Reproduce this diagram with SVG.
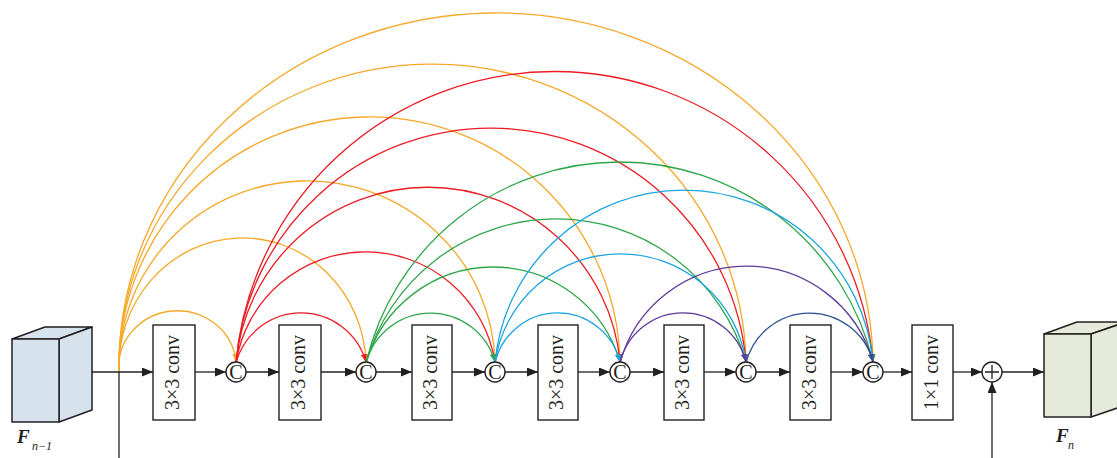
<svg xmlns="http://www.w3.org/2000/svg" width="1117" height="458" viewBox="0 0 1117 458">
  <style>
    .ln { fill: none; stroke: #231f20; stroke-width: 1.3; }
    .box { fill: #ffffff; stroke: #231f20; stroke-width: 1.4; }
    .cat { fill: #ffffff; stroke: #231f20; stroke-width: 1.4; }
    .lbl { font-family: "Liberation Serif", "Times New Roman", serif; font-size: 20px; fill: #231f20; }
    .sym { font-family: "Liberation Serif", "Times New Roman", serif; font-size: 20px; fill: #231f20; }
    .cube { stroke: #231f20; stroke-width: 1.5; stroke-linejoin: round; }
    .fv { font-family: "Liberation Serif", "Times New Roman", serif; font-weight: bold; font-style: italic; font-size: 19px; fill: #231f20; }
    .sub { font-family: "Liberation Serif", "Times New Roman", serif; font-style: italic; font-size: 12px; fill: #231f20; }
    .arc { fill: none; stroke-width: 1.3; }
    .o { stroke: #f5a829; }
    .r { stroke: #ec1c24; }
    .g { stroke: #2fa64b; }
    .b { stroke: #1ca5e0; }
    .p { stroke: #5d3b98; }
    .d { stroke: #2f5190; }
  </style>
  <defs>
    <marker id="ah" markerUnits="userSpaceOnUse" markerWidth="11" markerHeight="9" refX="11" refY="4.5" orient="auto">
      <path d="M0,0 L11,4.5 L0,9 Z" fill="#231f20"/>
    </marker>
    <marker id="ah-o" markerUnits="userSpaceOnUse" markerWidth="8" markerHeight="6" refX="8" refY="3" orient="auto">
      <path d="M0,0 L8,3 L0,6 Z" fill="#f5a829"/>
    </marker>
    <marker id="ah-r" markerUnits="userSpaceOnUse" markerWidth="8" markerHeight="6" refX="8" refY="3" orient="auto">
      <path d="M0,0 L8,3 L0,6 Z" fill="#ec1c24"/>
    </marker>
    <marker id="ah-g" markerUnits="userSpaceOnUse" markerWidth="8" markerHeight="6" refX="8" refY="3" orient="auto">
      <path d="M0,0 L8,3 L0,6 Z" fill="#2fa64b"/>
    </marker>
    <marker id="ah-b" markerUnits="userSpaceOnUse" markerWidth="8" markerHeight="6" refX="8" refY="3" orient="auto">
      <path d="M0,0 L8,3 L0,6 Z" fill="#1ca5e0"/>
    </marker>
    <marker id="ah-p" markerUnits="userSpaceOnUse" markerWidth="8" markerHeight="6" refX="8" refY="3" orient="auto">
      <path d="M0,0 L8,3 L0,6 Z" fill="#5d3b98"/>
    </marker>
    <marker id="ah-d" markerUnits="userSpaceOnUse" markerWidth="8" markerHeight="6" refX="8" refY="3" orient="auto">
      <path d="M0,0 L8,3 L0,6 Z" fill="#2f5190"/>
    </marker>
  </defs>

  <rect width="1117" height="458" fill="#ffffff"/>

  <!-- dense skip connections between concatenation nodes -->
  <g id="connectors">
    <g id="skip-arcs">
      <g marker-end="url(#ah-o)">
        <path class="arc o" d="M119,372 A58.5,56 0 0 1 236,362"/>
        <path class="arc o" d="M119,372 A123.5,129 0 0 1 366,362"/>
        <path class="arc o" d="M119,372 A188,186 0 0 1 495,362"/>
        <path class="arc o" d="M119,372 A250.5,250 0 0 1 620,362"/>
        <path class="arc o" d="M119,372 A313.5,303 0 0 1 746,362"/>
        <path class="arc o" d="M119,372 A377,354 0 0 1 873,362"/>
      </g>
      <g marker-end="url(#ah-r)">
        <path class="arc r" d="M236,363 A67.4,67.4 0 0 1 366,362"/>
        <path class="arc r" d="M236,363 A131.1,131.1 0 0 1 495,362"/>
        <path class="arc r" d="M236,363 A192.8,192.8 0 0 1 620,362"/>
        <path class="arc r" d="M236,363 A255.9,255.9 0 0 1 746,362"/>
        <path class="arc r" d="M236,363 A319.8,319.8 0 0 1 873,362"/>
      </g>
      <g marker-end="url(#ah-g)">
        <path class="arc g" d="M366,363 A66.8,66.8 0 0 1 495,362"/>
        <path class="arc g" d="M366,363 A132.2,132.2 0 0 1 620,362"/>
        <path class="arc g" d="M366,363 A197.5,197.5 0 0 1 746,362"/>
        <path class="arc g" d="M366,363 A260.5,260.5 0 0 1 873,362"/>
      </g>
      <g marker-end="url(#ah-b)">
        <path class="arc b" d="M495,363 A64.2,64.2 0 0 1 620,362"/>
        <path class="arc b" d="M495,363 A126.8,126.8 0 0 1 746,362"/>
        <path class="arc b" d="M495,363 A189.8,189.8 0 0 1 873,362"/>
      </g>
      <g marker-end="url(#ah-p)">
        <path class="arc p" d="M620,363 A64.8,64.8 0 0 1 746,362"/>
        <path class="arc p" d="M620,363 A131.2,131.2 0 0 1 873,362"/>
      </g>
      <path class="arc d" marker-end="url(#ah-d)" d="M746,363 A65.5,65.5 0 0 1 873,362"/>
    </g>

    <!-- main data path -->
    <g id="main-path">
      <path class="ln" d="M92,372 H153" marker-end="url(#ah)"/>
      <path class="ln" d="M119,372 V458"/>
      <path class="ln" d="M195,372 H226" marker-end="url(#ah)"/>
      <path class="ln" d="M246,372 H279" marker-end="url(#ah)"/>
      <path class="ln" d="M321,372 H356" marker-end="url(#ah)"/>
      <path class="ln" d="M376,372 H412" marker-end="url(#ah)"/>
      <path class="ln" d="M452,372 H485" marker-end="url(#ah)"/>
      <path class="ln" d="M505,372 H538" marker-end="url(#ah)"/>
      <path class="ln" d="M578,372 H610" marker-end="url(#ah)"/>
      <path class="ln" d="M630,372 H664" marker-end="url(#ah)"/>
      <path class="ln" d="M704,372 H736" marker-end="url(#ah)"/>
      <path class="ln" d="M756,372 H790" marker-end="url(#ah)"/>
      <path class="ln" d="M831,372 H863" marker-end="url(#ah)"/>
      <path class="ln" d="M883,372 H912" marker-end="url(#ah)"/>
      <path class="ln" d="M953,372 H982" marker-end="url(#ah)"/>
      <path class="ln" d="M1002,372 H1044" marker-end="url(#ah)"/>
      <path class="ln" d="M992,458 V382" marker-end="url(#ah)"/>
    </g>
  </g>

  <!-- input feature map -->
  <g id="input-cube">
    <polygon class="cube" fill="#d6e2ec" points="12,339 45,327 92,327 59,339"/>
    <polygon class="cube" fill="#d6e2ec" points="59,339 92,327 92,410 59,422"/>
    <rect class="cube" fill="#d6e2ec" x="12" y="339" width="47" height="83"/>
    <text class="fv" x="17" y="443">F</text>
    <text class="sub" x="32" y="450">n−1</text>
  </g>

  <g id="conv1">
    <rect class="box" x="153" y="325" width="42" height="95"/>
    <text class="lbl" text-anchor="middle" transform="translate(174,372.5) rotate(-90)" y="5">3×3 conv</text>
  </g>
  <g id="cat1">
    <circle class="cat" cx="236" cy="372" r="10"/>
    <text class="sym" x="236" y="379" text-anchor="middle">C</text>
  </g>
  <g id="conv2">
    <rect class="box" x="279" y="325" width="42" height="95"/>
    <text class="lbl" text-anchor="middle" transform="translate(300,372.5) rotate(-90)" y="5">3×3 conv</text>
  </g>
  <g id="cat2">
    <circle class="cat" cx="366" cy="372" r="10"/>
    <text class="sym" x="366" y="379" text-anchor="middle">C</text>
  </g>
  <g id="conv3">
    <rect class="box" x="412" y="325" width="40" height="95"/>
    <text class="lbl" text-anchor="middle" transform="translate(432,372.5) rotate(-90)" y="5">3×3 conv</text>
  </g>
  <g id="cat3">
    <circle class="cat" cx="495" cy="372" r="10"/>
    <text class="sym" x="495" y="379" text-anchor="middle">C</text>
  </g>
  <g id="conv4">
    <rect class="box" x="538" y="325" width="40" height="95"/>
    <text class="lbl" text-anchor="middle" transform="translate(558,372.5) rotate(-90)" y="5">3×3 conv</text>
  </g>
  <g id="cat4">
    <circle class="cat" cx="620" cy="372" r="10"/>
    <text class="sym" x="620" y="379" text-anchor="middle">C</text>
  </g>
  <g id="conv5">
    <rect class="box" x="664" y="325" width="40" height="95"/>
    <text class="lbl" text-anchor="middle" transform="translate(684,372.5) rotate(-90)" y="5">3×3 conv</text>
  </g>
  <g id="cat5">
    <circle class="cat" cx="746" cy="372" r="10"/>
    <text class="sym" x="746" y="379" text-anchor="middle">C</text>
  </g>
  <g id="conv6">
    <rect class="box" x="790" y="325" width="41" height="95"/>
    <text class="lbl" text-anchor="middle" transform="translate(810.5,372.5) rotate(-90)" y="5">3×3 conv</text>
  </g>
  <g id="cat6">
    <circle class="cat" cx="873" cy="372" r="10"/>
    <text class="sym" x="873" y="379" text-anchor="middle">C</text>
  </g>
  <g id="fuse">
    <rect class="box" x="912" y="325" width="41" height="95"/>
    <text class="lbl" text-anchor="middle" transform="translate(932.5,372.5) rotate(-90)" y="5">1×1 conv</text>
  </g>
  <g id="add">
    <circle class="cat" cx="992" cy="372" r="10"/>
    <path class="ln" d="M985,372 H999 M992,365 V379"/>
  </g>

  <!-- output feature map -->
  <g id="output-cube">
    <polygon class="cube" fill="#e6eadb" points="1044,334 1077,322 1126,322 1091,334"/>
    <polygon class="cube" fill="#e6eadb" points="1091,334 1126,322 1126,405 1091,417"/>
    <rect class="cube" fill="#e6eadb" x="1044" y="334" width="47" height="83"/>
    <text class="fv" x="1056" y="442">F</text>
    <text class="sub" x="1068" y="449" font-size="11">n</text>
  </g>
</svg>
